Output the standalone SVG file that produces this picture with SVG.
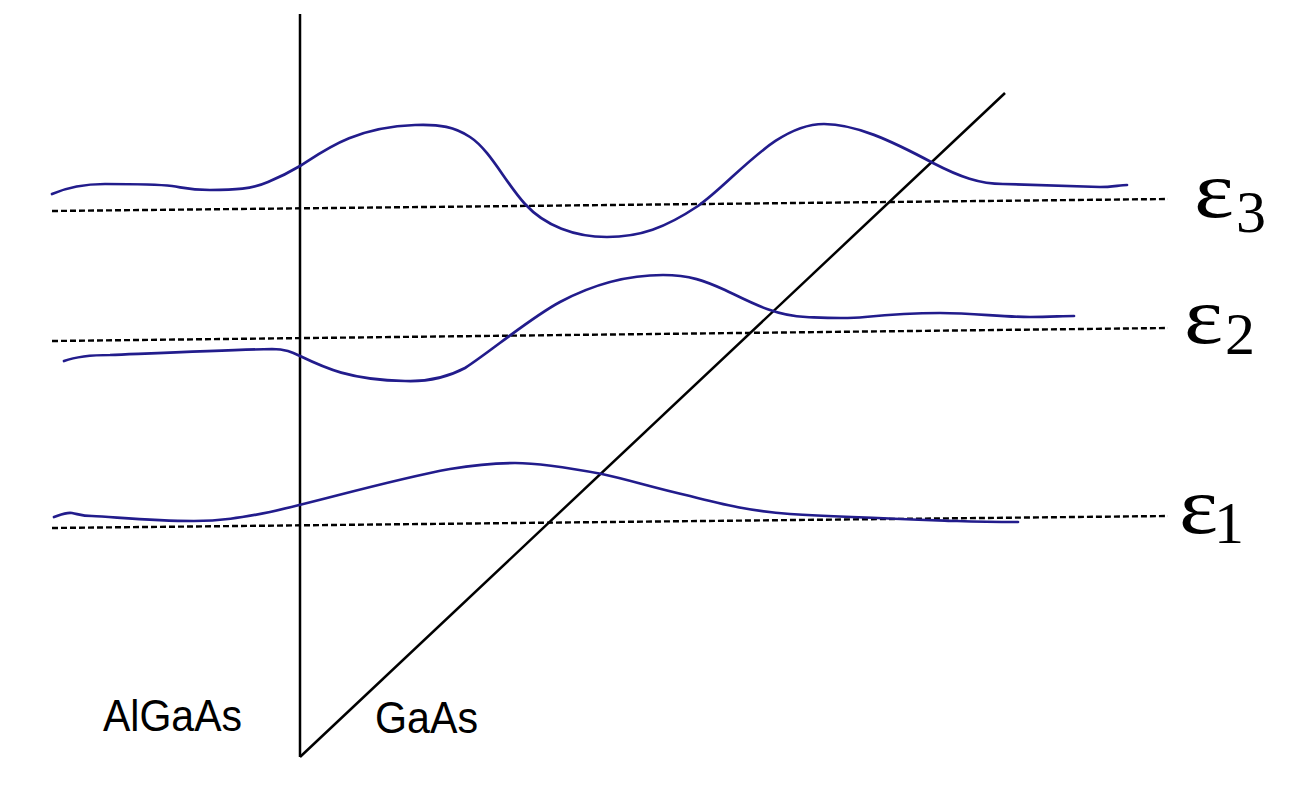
<svg xmlns="http://www.w3.org/2000/svg" width="1304" height="808" viewBox="0 0 1304 808">
  <style>
    .axis { stroke: #000; stroke-width: 2.5; fill: none; }
    .level { stroke: #000; stroke-width: 2.4; stroke-dasharray: 6 3; fill: none; }
    .wave { stroke: #221c8c; stroke-width: 2.7; fill: none; stroke-linecap: round; }
    .eps { font-family: "Liberation Serif", serif; font-size: 80px; fill: #000; }
    .idx { font-family: "Liberation Serif", serif; font-size: 60px; fill: #000; }
    .mat { font-family: "Liberation Sans", Arial, sans-serif; font-size: 45px; fill: #000; }
  </style>
  <rect width="1304" height="808" fill="#fff"/>

  <g id="connectors">
    <path id="interface" class="axis" d="M300,14 L300,757"/>
    <path id="band-edge" class="axis" d="M300,757 L1005,93"/>
    <path id="level-3" class="level" d="M52,211 L1168,199"/>
    <path id="level-2" class="level" d="M52,341 L1168,328"/>
    <path id="level-1" class="level" d="M52,528 L1168,516"/>
  </g>

  <g id="wave-3">
    <path class="wave" d="M52,194 C68,187 84,184 105,184 C135,184 155,184 172,186 C185,188 190,190 210,190 C235,190 252,189 268,182 C280,177 290,172 300,166 C325,150 355,127 415,125 C440,124 455,127 470,137 C490,150 505,182 525,204 C545,226 575,237 607,237 C640,237 665,228 698,206 C735,180 775,124 824,124 C855,124 890,140 933,163 C960,177 980,184 1003,184 C1040,185 1070,186 1100,187 C1112,187 1120,185 1127,185"/>
  </g>

  <g id="wave-2">
    <path class="wave" d="M64,361 C75,357 90,355 110,355 C160,353 230,350 272,349 C285,349 292,352 300,356 C325,368 350,380 405,381 C430,382 448,377 465,368 C490,352 530,318 560,302 C590,286 625,275 663,275 C690,275 705,281 725,290 C750,302 775,316 806,317 C830,318 845,319 865,317 C885,315 905,313 940,313 C975,313 1000,317 1030,317 C1050,317 1062,316 1074,316"/>
  </g>

  <g id="wave-1">
    <path class="wave" d="M54,517 C60,515 66,512 72,513 C78,514 82,516 92,516 C115,517 150,521 194,521 C220,521 240,518 270,512 C320,501 390,480 450,469 C480,464 500,463 515,463 C540,463 570,468 602,474 C630,480 650,487 690,496 C725,505 750,511 790,514 C840,517 900,519 957,521 C985,522 1000,522 1018,522"/>
  </g>

  <g id="label-e3">
    <text class="eps" x="1194" y="217" textLength="40" lengthAdjust="spacingAndGlyphs">ε</text>
    <text class="idx" x="1236" y="232">3</text>
  </g>
  <g id="label-e2">
    <text class="eps" x="1184" y="343" textLength="39" lengthAdjust="spacingAndGlyphs">ε</text>
    <text class="idx" x="1225" y="354">2</text>
  </g>
  <g id="label-e1">
    <text class="eps" x="1179" y="533" textLength="39" lengthAdjust="spacingAndGlyphs">ε</text>
    <text class="idx" x="1214" y="543">1</text>
  </g>

  <g id="label-algaas">
    <text class="mat" x="103" y="731" textLength="139" lengthAdjust="spacingAndGlyphs">AlGaAs</text>
  </g>
  <g id="label-gaas">
    <text class="mat" x="375" y="733" textLength="103" lengthAdjust="spacingAndGlyphs">GaAs</text>
  </g>
</svg>
